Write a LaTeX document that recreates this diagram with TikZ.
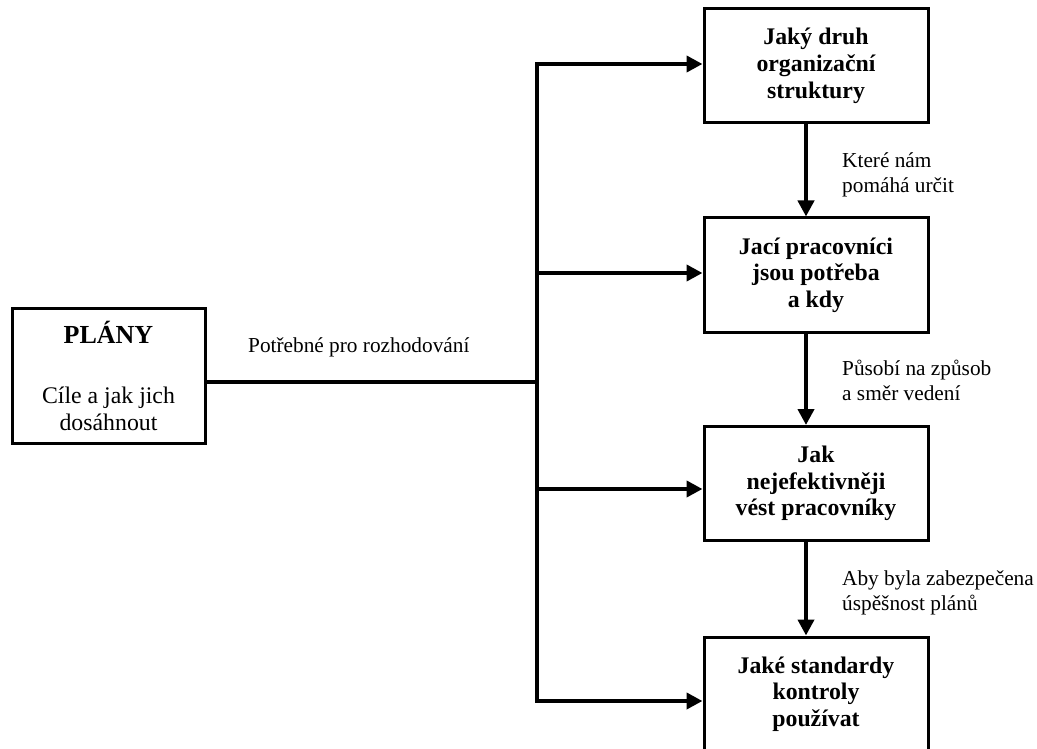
\documentclass[tikz,border=0pt]{standalone}
\usepackage{fontspec}
\setmainfont{Liberation Serif}
\usetikzlibrary{arrows.meta}

\begin{document}
\begin{tikzpicture}[x=1pt, y=-1pt,
    box/.style={draw, line width=3pt, align=center, inner sep=0pt, minimum width=224pt, minimum height=114pt, font=\bfseries\fontsize{23.8}{26.7}\selectfont},
    note/.style={anchor=base west, align=left, inner sep=0pt, font=\fontsize{21.3}{25}\selectfont},
    wire/.style={line width=4.5pt},
    arr/.style={line width=4.5pt, -{Triangle[length=16pt, width=16pt]}}]
    \useasboundingbox (0,0) rectangle (1037,749);
    % plans box
    \node[draw, line width=3pt, align=center, inner sep=0pt, minimum width=193pt, minimum height=135pt, font=\fontsize{23.8}{27}\selectfont] (plany) at (108.5,375.5)
        {{\bfseries\fontsize{26}{30}\selectfont PLÁNY}\\[33pt]Cíle a jak jich\\dosáhnout};
    % boxes on the right
    \node[box] (b1) at (816,66) {Jaký druh\\organizační\\struktury};
    \node[box] (b2) at (816,275) {Jací pracovníci\\jsou potřeba\\a kdy};
    \node[box] (b3) at (816,483.5) {Jak\\nejefektivněji\\vést pracovníky};
    \node[box] (b4) at (816,694) {Jaké standardy\\kontroly\\používat};
    % trunk
    \coordinate (ttop) at (537,64);
    \coordinate (tbot) at (537,701);
    \coordinate (hub) at (537,382);
    \draw[wire, line cap=rect] (ttop) -- (tbot);
    \draw[wire] (hub -| plany.east) -- (hub);
    \node[anchor=base west, inner sep=0pt, font=\fontsize{21.3}{25}\selectfont] (need) at (248,352) {Potřebné pro rozhodování};
    \foreach \n/\y in {1/64, 2/273, 3/489, 4/701}
        \draw[arr] (537,\y) -- (b\n.west |- 537,\y);
    % arrows down
    \draw[arr] ([xshift=-10pt]b1.south) -- ([xshift=-10pt]b2.north);
    \draw[arr] ([xshift=-10pt]b2.south) -- ([xshift=-10pt]b3.north);
    \draw[arr] ([xshift=-10pt]b3.south) -- ([xshift=-10pt]b4.north);
    \node[note] (n1) at (842,193) {Které nám\\pomáhá určit};
    \node[note] (n2) at (842,400) {Působí na způsob\\a směr vedení};
    \node[note] (n3) at (842,610) {Aby byla zabezpečena\\úspěšnost plánů};
\end{tikzpicture}
\end{document}
